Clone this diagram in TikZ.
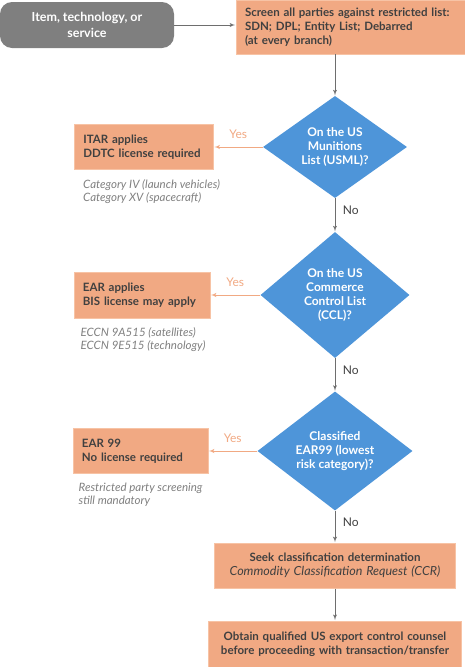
\documentclass[tikz,border=0pt]{standalone}
\usepackage{fontspec}
\setmainfont{Lato}
\usetikzlibrary{shapes,arrows}
\usetikzlibrary{positioning}
\definecolor{salmon}{HTML}{F1A983}
\definecolor{salmonline}{HTML}{F7C3A5}
\definecolor{skyblue}{HTML}{4E95D9}
\definecolor{slate}{HTML}{7F7F7F}
\definecolor{ink}{HTML}{404040}
\definecolor{flowgray}{HTML}{6E6E6E}
\tikzset{
    start/.style={
           rectangle, rounded corners=12pt,
           fill=slate, text=white,
           minimum width=174pt, minimum height=46pt,
           align=center,
           font=\fontsize{12.5}{16}\selectfont\bfseries
           },
    box/.style={
           rectangle,
           fill=salmon, draw=salmonline, line width=0.8pt,
           text=ink, inner xsep=9pt, inner ysep=0pt,
           font=\fontsize{11.5}{14}\selectfont\bfseries
           },
    decision/.style={
           diamond, aspect=1.4,
           fill=skyblue, inner sep=0pt,
           text=white, align=center,
           font=\fontsize{12}{14}\selectfont\bfseries
           },
    note/.style={
           anchor=north west, inner sep=0pt,
           align=left, text=slate,
           font=\fontsize{11.5}{13}\selectfont\itshape
           },
    flow/.style={->, draw=flowgray, line width=0.9pt},
    yesflow/.style={->, draw=salmon, line width=0.9pt},
    yeslabel/.style={above=5pt, text=salmon, font=\fontsize{12}{14}\selectfont},
    nolabel/.style={right=4pt, pos=0.35, text=ink, font=\fontsize{12}{14}\selectfont}
}
\begin{document}
\begin{tikzpicture}[x=1pt, y=-1pt, >=latex', shorten >=0.5pt]
%\draw[help lines] (0,0) grid (465,667);
   \useasboundingbox (0,0) rectangle (465,667);
   \node[start] (item) at (87,25) {Item, technology, or\\service};
   \node[box, text width=212pt, minimum height=54pt, align=left] (screen) at (351,27)
       {Screen all parties against restricted list:\\SDN; DPL; Entity List; Debarred\\(at every branch)};
   % decisions down the middle
   \node[decision, minimum width=144pt, minimum height=102pt] (usml) at (335,147)
       {On the US\\Munitions\\List (USML)?};
   \node[decision, minimum width=149pt, minimum height=126pt] (ccl) at (335,295)
       {On the US\\Commerce\\Control List\\(CCL)?};
   \node[decision, minimum width=155pt, minimum height=119pt] (ear) at (335,451)
       {Classified\\EAR99 (lowest\\risk category)?};
   \node[box, text width=223pt, minimum height=45pt, align=center] (seek) [below=32pt of ear]
       {Seek classification determination\\{\normalfont\itshape\fontsize{12.5}{14}\selectfont Commodity Classification Request (CCR)}};
   \node[box, text width=235pt, minimum height=46pt, align=center] (counsel) [below=32pt of seek]
       {Obtain qualified US export control counsel\\before proceeding with transaction/transfer};
   % outcomes on the left
   \node[box, text width=121pt, minimum height=45pt, align=left] (itar) [left=49pt of usml]
       {ITAR applies\\DDTC license required};
   \node[box, text width=118pt, minimum height=46pt, align=left] (bis) [left=50pt of ccl]
       {EAR applies\\BIS license may apply};
   \node[box, text width=117pt, minimum height=45pt, align=left] (ear99) [left=49pt of ear]
       {EAR 99\\No license required};
   \node[note] (itarnote) at ([xshift=9pt,yshift=-9pt]itar.south west)
       {Category IV (launch vehicles)\\Category XV (spacecraft)};
   \node[note] (bisnote) at ([xshift=7pt,yshift=-9pt]bis.south west)
       {ECCN 9A515 (satellites)\\ECCN 9E515 (technology)};
   \node[note] (ear99note) at ([xshift=6pt,yshift=-9pt]ear99.south west)
       {Restricted party screening\\still mandatory};
   \path
    (item) edge[flow] (item.east -| screen.west)
    (usml.north |- screen.south) edge[flow] (usml.north)
    (usml) edge[flow] node[nolabel] {No} (ccl)
    (ccl) edge[flow] node[nolabel] {No} (ear)
    (ear) edge[flow] node[nolabel] {No} (seek)
    (seek) edge[flow] (counsel)
    (usml) edge[yesflow] node[yeslabel] {Yes} (itar)
    (ccl) edge[yesflow] node[yeslabel] {Yes} (bis)
    (ear) edge[yesflow] node[yeslabel] {Yes} (ear99);
\end{tikzpicture}
\end{document}
